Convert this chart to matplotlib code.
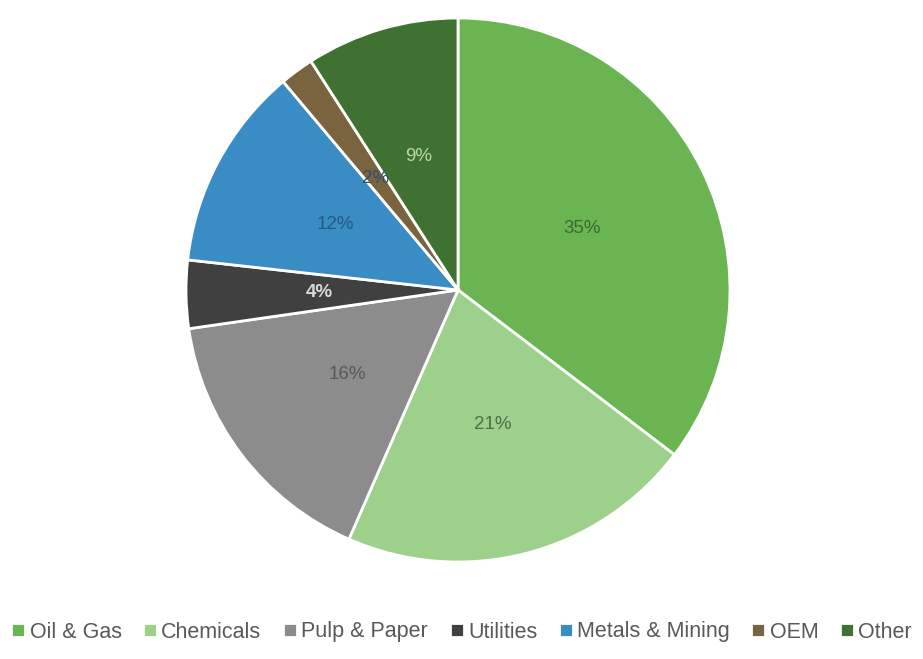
import numpy as np
import matplotlib
matplotlib.use("Agg")
import matplotlib.pyplot as plt

plt.rcParams["font.family"] = ["Liberation Sans", "DejaVu Sans"]

# ── data ────────────────────────────────────────────────────────────────────
sectors = ["Oil & Gas", "Chemicals", "Pulp & Paper", "Utilities",
           "Metals & Mining", "OEM", "Other"]
shares = [35, 21, 16, 4, 12, 2, 9]

# ── styling ─────────────────────────────────────────────────────────────────
colors = ["#6ab552", "#9dd08b", "#8c8c8c", "#404040",
          "#3a8cc4", "#7a6440", "#3f7132"]
label_colors = ["#3b6a30", "#4d6f45", "#585858", "#d8d8d8",
                "#245a86", "#2c4f70", "#b8d9aa"]
label_bold = [False, False, False, True, False, False, False]

W, H = 923, 659
cx, cy, r = 458, 290, 272

fig = plt.figure(figsize=(W / 100, H / 100), dpi=100)
fig.patch.set_facecolor("white")
ax = fig.add_axes([(cx - r) / W, (H - cy - r) / H, 2 * r / W, 2 * r / H])

wedges, texts = ax.pie(
    shares,
    colors=colors,
    startangle=90,
    counterclock=False,
    radius=1.0,
    wedgeprops=dict(edgecolor="white", linewidth=2.0),
)

# percentage labels, half way out along each wedge
for w, v, col, bold in zip(wedges, shares, label_colors, label_bold):
    ang = np.radians((w.theta1 + w.theta2) / 2)
    x, y = 0.51 * np.cos(ang), 0.51 * np.sin(ang)
    ax.text(x, y, f"{v}%", ha="center", va="center", fontsize=13.5,
            color=col, fontweight="bold" if bold else "normal")

ax.set_xlim(-1, 1)
ax.set_ylim(-1, 1)
ax.set_aspect("equal")
ax.axis("off")

# ── legend ──────────────────────────────────────────────────────────────────
leg = fig.legend(
    wedges, sectors,
    loc="center", bbox_to_anchor=(0.5, 1 - 632 / H),
    ncol=len(sectors), frameon=False,
    fontsize=15.5, handlelength=0.65, handleheight=0.65,
    handletextpad=0.2, columnspacing=1.0,
)
for t in leg.get_texts():
    t.set_color("#595959")

fig.savefig("out.png", dpi=100, facecolor="white")
